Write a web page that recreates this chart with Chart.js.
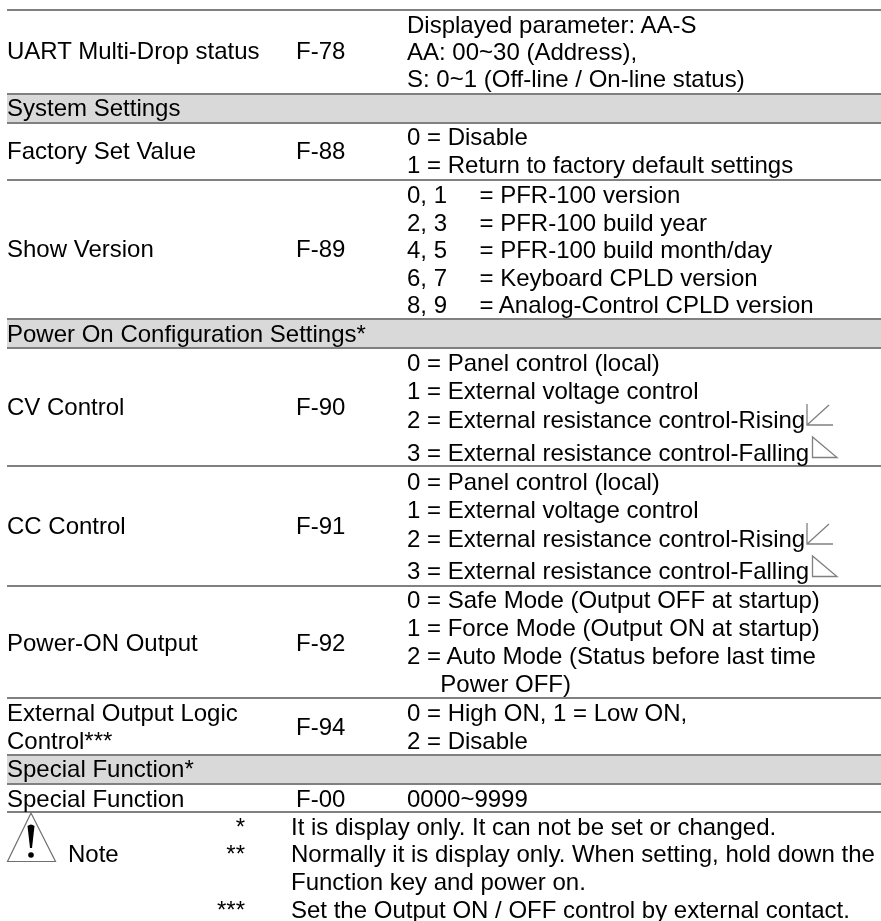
<!DOCTYPE html>
<html>
<head>
<meta charset="utf-8">
<title>Function settings</title>
<script src="https://cdn.jsdelivr.net/npm/chart.js@4"></script>
<style>
    html, body { margin: 0; padding: 0; background: #fff; overflow: hidden; }
    canvas { display: block; }
</style>
</head>
<body>
<canvas id="table-chart" width="881" height="921"></canvas>
<script>
// table rows, top to bottom
var rowNames = ["UART Multi-Drop status", "System Settings", "Factory Set Value", "Show Version",
    "Power On Configuration Settings*", "CV Control", "CC Control", "Power-ON Output",
    "External Output Logic\nControl***", "Special Function*", "Special Function"];
var rowCodes = ["F-78", "", "F-88", "F-89", "", "F-90", "F-91", "F-92", "F-94", "", "F-00"];
var rowDetails = [
    ["Displayed parameter: AA-S", "AA: 00~30 (Address),", "S: 0~1 (Off-line / On-line status)"],
    [],
    ["0 = Disable", "1 = Return to factory default settings"],
    ["0, 1\t= PFR-100 version", "2, 3\t= PFR-100 build year", "4, 5\t= PFR-100 build month/day",
        "6, 7\t= Keyboard CPLD version", "8, 9\t= Analog-Control CPLD version"],
    [],
    ["0 = Panel control (local)", "1 = External voltage control",
        "2 = External resistance control-Rising", "3 = External resistance control-Falling"],
    ["0 = Panel control (local)", "1 = External voltage control",
        "2 = External resistance control-Rising", "3 = External resistance control-Falling"],
    ["0 = Safe Mode (Output OFF at startup)", "1 = Force Mode (Output ON at startup)",
        "2 = Auto Mode (Status before last time", "     Power OFF)"],
    ["0 = High ON, 1 = Low ON,", "2 = Disable"],
    [],
    ["0000~9999"]
];
var rowIsSection = [false, true, false, false, true, false, false, false, false, true, false];
var rowHeights = [84, 29, 57, 139, 29, 118, 120, 112, 57, 29, 28];
var topGap = 10;

var noteLabel = "Note";
var noteMarks = ["*", "**", "", "***"];
var noteLines = ["It is display only. It can not be set or changed.",
    "Normally it is display only. When setting, hold down the",
    "Function key and power on.",
    "Set the Output ON / OFF control by external contact."];

// text baselines, same units as the y scale
var nameBaselines = [59, 116, 159, 257, 342, 415, 534, 651, [721, 749], 777, 807];
var codeBaselines = [59, 0, 159, 257, 0, 415, 534, 651, 735, 0, 807];
var detailBaselines = [
    [33, 60, 87], [], [145, 173], [203, 231, 258, 286, 313], [],
    [371, 399, 428, 461], [490, 518, 547, 579], [608, 636, 664, 692], [721, 749], [], [807]
];
var noteBaselines = [835, 862, 890, 918];

var colName = 7, colCode = 296, colDetail = 407, colTab = 479.5;
var colMark = 245, colNote = 291;

function drawRamps(ctx, y) {
    ctx.strokeStyle = "#808080";
    ctx.lineWidth = 1.3;
    ctx.beginPath();
    ctx.moveTo(807, y + 404); ctx.lineTo(807, y + 425); ctx.lineTo(833, y + 425);
    ctx.moveTo(807, y + 425); ctx.lineTo(829, y + 405);
    ctx.stroke();
    ctx.beginPath();
    ctx.moveTo(812.5, y + 437); ctx.lineTo(812.5, y + 457.5); ctx.lineTo(837, y + 457.5);
    ctx.closePath();
    ctx.stroke();
}

function drawWarning(ctx) {
    ctx.strokeStyle = "#707070";
    ctx.lineWidth = 1.2;
    ctx.beginPath();
    ctx.moveTo(31, 813); ctx.lineTo(7.5, 861.5); ctx.lineTo(55.5, 861.5);
    ctx.closePath();
    ctx.stroke();
    ctx.fillStyle = "#000";
    ctx.beginPath();
    ctx.moveTo(27.5, 826); ctx.quadraticCurveTo(31, 823, 34.5, 826);
    ctx.lineTo(32, 848); ctx.lineTo(30, 848);
    ctx.closePath();
    ctx.fill();
    ctx.beginPath();
    ctx.arc(31, 855, 2.8, 0, Math.PI * 2);
    ctx.fill();
}

var tableText = {
    id: "tableText",
    afterDraw: function (chart) {
        var ctx = chart.ctx;
        var y = chart.scales.y;
        ctx.save();
        ctx.font = "24px 'Liberation Sans', Arial, sans-serif";
        ctx.fontKerning = "normal";
        ctx.fillStyle = "#000";
        ctx.textBaseline = "alphabetic";
        ctx.textAlign = "left";

        rowNames.forEach(function (name, i) {
            var parts = name.split("\n");
            var bases = [].concat(nameBaselines[i]);
            parts.forEach(function (part, k) {
                ctx.fillText(part, colName, y.getPixelForValue(bases[k]));
            });
            if (rowCodes[i]) {
                ctx.fillText(rowCodes[i], colCode, y.getPixelForValue(codeBaselines[i]));
            }
            rowDetails[i].forEach(function (line, k) {
                var py = y.getPixelForValue(detailBaselines[i][k]);
                var cells = line.split("\t");
                ctx.fillText(cells[0], colDetail, py);
                if (cells[1]) {
                    ctx.fillText(cells[1], colTab, py);
                }
            });
        });

        ctx.fillText(noteLabel, 68, y.getPixelForValue(noteBaselines[1]));
        noteLines.forEach(function (line, k) {
            var py = y.getPixelForValue(noteBaselines[k]);
            ctx.fillText(line, colNote, py);
            if (noteMarks[k]) {
                ctx.textAlign = "right";
                ctx.fillText(noteMarks[k], colMark, py);
                ctx.textAlign = "left";
            }
        });

        drawRamps(ctx, 0);
        drawRamps(ctx, 119);
        drawWarning(ctx);
        ctx.restore();
    }
};

// one stacked column, every table row is a segment of it
var datasets = [{ data: [topGap], backgroundColor: "#fff" }];
rowHeights.forEach(function (h, i) {
    datasets.push({ data: [h], backgroundColor: rowIsSection[i] ? "#d9d9d9" : "#fff" });
});

var ruleValues = [topGap];
rowHeights.forEach(function (h) {
    ruleValues.push(ruleValues[ruleValues.length - 1] + h);
});

new Chart(document.getElementById("table-chart"), {
    type: "bar",
    data: { labels: ["table"], datasets: datasets },
    options: {
        responsive: false,
        animation: false,
        layout: { padding: { left: 7 } },
        datasets: { bar: { barPercentage: 1, categoryPercentage: 1, borderWidth: 0 } },
        plugins: { legend: { display: false }, tooltip: { enabled: false } },
        scales: {
            x: { stacked: true, display: false },
            y: {
                stacked: true,
                reverse: true,
                min: 0,
                max: 921,
                border: { display: false },
                grid: { z: 1, color: "#808080", lineWidth: 2, drawTicks: false },
                ticks: { display: false },
                afterBuildTicks: function (axis) {
                    axis.ticks = ruleValues.map(function (v) { return { value: v }; });
                },
                afterFit: function (axis) { axis.width = 0; }
            }
        }
    },
    plugins: [tableText]
});
</script>
</body>
</html>
